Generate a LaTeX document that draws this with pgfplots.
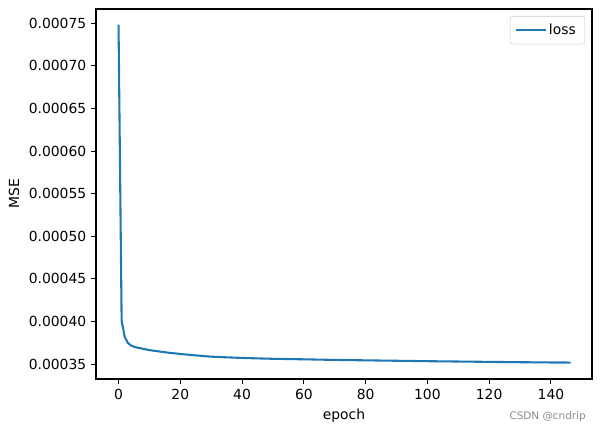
\documentclass[border=0pt]{standalone}
\usepackage{fontspec}
\setmainfont{DejaVu Sans}
\usepackage{pgfplots}
\pgfplotsset{compat=1.18}
\definecolor{tabblue}{HTML}{1F77B4}
\begin{document}
\begin{tikzpicture}
\begin{axis}[
  at={(0,0)}, anchor=south west,
  scale only axis,
  width=357.12pt, height=266.4pt,
  xmin=-7.3, xmax=153.3,
  ymin=0.0003326, ymax=0.0007667,
  xtick={0,20,40,60,80,100,120,140},
  ytick={0.00035,0.0004,0.00045,0.0005,0.00055,0.0006,0.00065,0.0007,0.00075},
  yticklabels={0.00035,0.00040,0.00045,0.00050,0.00055,0.00060,0.00065,0.00070,0.00075},
  scaled y ticks=false,
  /pgf/number format/assume math mode=true,
  tick align=outside,
  major tick length=3.5pt,
  tick style={black, line width=0.8pt},
  axis line style={line width=0.8pt},
  xtick pos=bottom, ytick pos=left,
  tick label style={font=\fontsize{10pt}{12pt}\selectfont},
  label style={font=\fontsize{10pt}{12pt}\selectfont},
  xlabel={epoch}, ylabel={MSE},
  legend style={at={(1,1)}, anchor=north east, xshift=-5pt, yshift=-5pt,
    draw=black!20, rounded corners=2pt, font=\fontsize{10pt}{12pt}\selectfont,
    inner xsep=4.5pt, inner ysep=3.5pt},
  legend cell align=left,
  legend image code/.code={\draw[#1] (0pt,0pt) -- (20pt,0pt);},
]
\addplot[tabblue, line width=1.5pt, line join=round, line cap=rect] coordinates {
(0,0.000747) (1,0.000401) (2,0.000382) (3,0.000375) (4,0.000372) (5,0.0003705)
(6,0.0003695) (8,0.000368) (10,0.0003665) (13,0.000365) (16,0.0003635)
(20,0.000362) (25,0.0003603) (30,0.0003588) (40,0.0003573) (50,0.0003563)
(60,0.0003557) (70,0.000355) (80,0.0003545) (90,0.000354) (100,0.0003535)
(110,0.0003531) (120,0.0003527) (130,0.0003523) (140,0.000352) (146,0.0003519)
};
\addlegendentry{loss}
\end{axis}
\node[anchor=east, text=black!45, font=\fontsize{7.5pt}{9pt}\selectfont, inner sep=0pt] at (352.8pt,-27.1pt) {CSDN @cndrip};
\pgfresetboundingbox
\useasboundingbox (-69.12pt,-38.16pt) rectangle (364.32pt,272.88pt);
\end{tikzpicture}
\end{document}
